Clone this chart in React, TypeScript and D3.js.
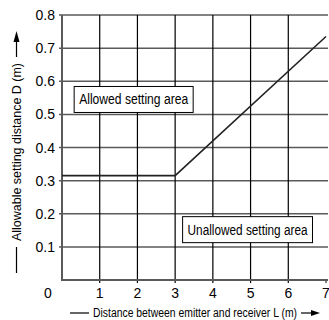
import React, { useRef, useEffect } from "react";
import * as d3 from "d3";

// distance between emitter and receiver L (m) vs allowable setting distance D (m)
const limitL = [0, 3, 7];
const limitD = [0.315, 0.315, 0.735];

const xTicks = [1, 2, 3, 4, 5, 6, 7];
const yTicks = [0.1, 0.2, 0.3, 0.4, 0.5, 0.6, 0.7, 0.8];

const areaLabels = ["Allowed setting area", "Unallowed setting area"];
const areaL = [1.9, 4.92];
const areaD = [0.545, 0.152];

const xTitle = "Distance between emitter and receiver L (m)";
const yTitle = "Allowable setting distance D (m)";

const W = 329;
const H = 320;
const FONT = "'Liberation Sans', Arial, sans-serif";

function Chart() {
  const svgRef = useRef<SVGSVGElement>(null);

  useEffect(() => {
    const svg = d3.select(svgRef.current);
    svg.selectAll("*").remove();

    const x = d3.scaleLinear().domain([0, 7]).range([62, 326]);
    const y = d3.scaleLinear().domain([0, 0.8]).range([280, 15]);
    const x0 = x(0);
    const y0 = y(0);

    // horizontal grid (grey)
    svg
      .append("g")
      .selectAll("line")
      .data(yTicks)
      .join("line")
      .attr("x1", x0 - 3)
      .attr("x2", x(7) + 2)
      .attr("y1", (d) => y(d))
      .attr("y2", (d) => y(d))
      .attr("stroke", "#5a5a5a")
      .attr("stroke-width", 1.5);

    // vertical grid (black)
    svg
      .append("g")
      .selectAll("line")
      .data(xTicks.filter((d) => d < 7))
      .join("line")
      .attr("x1", (d) => x(d))
      .attr("x2", (d) => x(d))
      .attr("y1", y(0.8))
      .attr("y2", y0 + 3)
      .attr("stroke", "#000")
      .attr("stroke-width", 1.2);

    // tick at 7
    svg
      .append("line")
      .attr("x1", x(7))
      .attr("x2", x(7))
      .attr("y1", y0)
      .attr("y2", y0 + 3)
      .attr("stroke", "#000");

    // left + bottom frame
    svg
      .append("path")
      .attr("d", `M${x0},${y(0.8)}V${y0}H${x(7) + 2}`)
      .attr("fill", "none")
      .attr("stroke", "#5a5a5a")
      .attr("stroke-width", 2);

    // limit line
    const line = d3
      .line<number>()
      .x((d, i) => x(limitL[i]))
      .y((d) => y(d));
    svg
      .append("path")
      .datum(limitD)
      .attr("d", line)
      .attr("fill", "none")
      .attr("stroke", "#222")
      .attr("stroke-width", 1.6);

    // tick labels
    svg
      .append("g")
      .selectAll("text")
      .data(xTicks)
      .join("text")
      .attr("x", (d) => x(d))
      .attr("y", y0 + 18)
      .attr("text-anchor", "middle")
      .attr("font-family", FONT)
      .attr("font-size", 14)
      .text((d) => d);

    svg
      .append("g")
      .selectAll("text")
      .data(yTicks)
      .join("text")
      .attr("x", x0 - 7)
      .attr("y", (d) => y(d) + 5)
      .attr("text-anchor", "end")
      .attr("font-family", FONT)
      .attr("font-size", 14)
      .text((d) => d.toFixed(1));

    svg
      .append("text")
      .attr("x", x0 - 14)
      .attr("y", y0 + 18)
      .attr("text-anchor", "middle")
      .attr("font-family", FONT)
      .attr("font-size", 14)
      .text("0");

    // area boxes
    areaLabels.forEach((label, i) => {
      const cx = x(areaL[i]);
      const cy = y(areaD[i]);
      const tw = label.length * 5.45;
      const bw = tw + 10;
      const bh = 26;
      svg
        .append("rect")
        .attr("x", cx - bw / 2)
        .attr("y", cy - bh / 2)
        .attr("width", bw)
        .attr("height", bh)
        .attr("fill", "#fff")
        .attr("stroke", "#000")
        .attr("stroke-width", 1);
      svg
        .append("text")
        .attr("x", cx)
        .attr("y", cy + 5)
        .attr("text-anchor", "middle")
        .attr("font-family", FONT)
        .attr("font-size", 14)
        .attr("textLength", tw)
        .attr("lengthAdjust", "spacingAndGlyphs")
        .text(label);
    });

    // x axis title with line and arrow
    const tx = 195;
    const ty = 317;
    svg
      .append("text")
      .attr("x", tx)
      .attr("y", ty)
      .attr("text-anchor", "middle")
      .attr("font-family", FONT)
      .attr("font-size", 12)
      .attr("textLength", 204)
      .attr("lengthAdjust", "spacingAndGlyphs")
      .text(xTitle);
    svg
      .append("line")
      .attr("x1", 70)
      .attr("x2", 89)
      .attr("y1", ty - 4)
      .attr("y2", ty - 4)
      .attr("stroke", "#000")
      .attr("stroke-width", 1.2);
    svg
      .append("line")
      .attr("x1", 301)
      .attr("x2", 312)
      .attr("y1", ty - 4)
      .attr("y2", ty - 4)
      .attr("stroke", "#000")
      .attr("stroke-width", 1.2);
    svg
      .append("path")
      .attr("d", `M311,${ty - 7}L320,${ty - 4}L311,${ty - 1}Z`)
      .attr("fill", "#000");

    // y axis title with line and arrow
    const lx = 21;
    svg
      .append("text")
      .attr("transform", `translate(${lx},152) rotate(-90)`)
      .attr("text-anchor", "middle")
      .attr("font-family", FONT)
      .attr("font-size", 13)
      .attr("textLength", 178)
      .attr("lengthAdjust", "spacingAndGlyphs")
      .text(yTitle);
    svg
      .append("line")
      .attr("x1", 16.5)
      .attr("x2", 16.5)
      .attr("y1", 247)
      .attr("y2", 273)
      .attr("stroke", "#000")
      .attr("stroke-width", 1.2);
    svg
      .append("line")
      .attr("x1", 16.5)
      .attr("x2", 16.5)
      .attr("y1", 40)
      .attr("y2", 57)
      .attr("stroke", "#000")
      .attr("stroke-width", 1.2);
    svg
      .append("path")
      .attr("d", "M13.5,42L16.5,31L19.5,42Z")
      .attr("fill", "#000");
  }, []);

  return (
    <svg
      ref={svgRef}
      width={W}
      height={H}
      style={{ position: "absolute", left: 0, top: 0, background: "#fff" }}
    ></svg>
  );
}

export default function App() {
  return <Chart />;
}
